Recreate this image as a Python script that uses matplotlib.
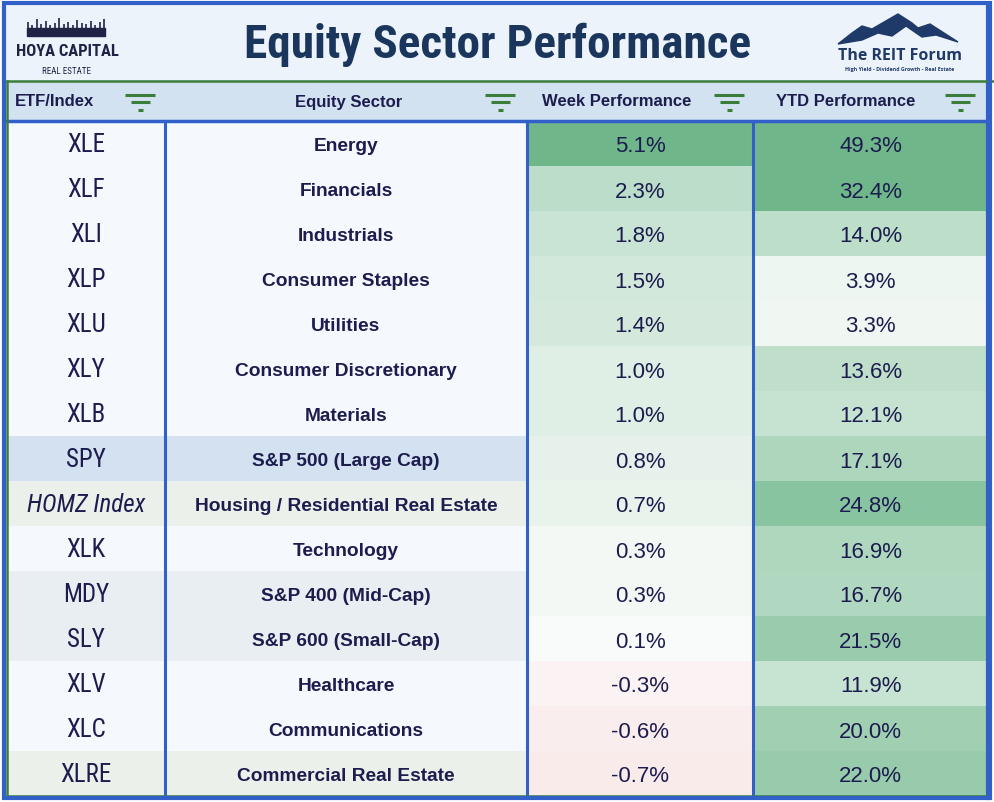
import numpy as np
import matplotlib
matplotlib.use("Agg")
import matplotlib.pyplot as plt
from matplotlib.patches import Rectangle, Polygon
from matplotlib import font_manager
from matplotlib.colors import to_rgb

# Data
tickers = ["XLE", "XLF", "XLI", "XLP", "XLU", "XLY", "XLB", "SPY", "HOMZ Index",
           "XLK", "MDY", "SLY", "XLV", "XLC", "XLRE"]
sectors = ["Energy", "Financials", "Industrials", "Consumer Staples", "Utilities",
           "Consumer Discretionary", "Materials", "S&P 500 (Large Cap)",
           "Housing / Residential Real Estate", "Technology", "S&P 400 (Mid-Cap)",
           "S&P 600 (Small-Cap)", "Healthcare", "Communications", "Commercial Real Estate"]
week_perf = [5.1, 2.3, 1.8, 1.5, 1.4, 1.0, 1.0, 0.8, 0.7, 0.3, 0.3, 0.1, -0.3, -0.6, -0.7]
ytd_perf = [49.3, 32.4, 14.0, 3.9, 3.3, 13.6, 12.1, 17.1, 24.8, 16.9, 16.7, 21.5, 11.9, 20.0, 22.0]
headers = ["ETF/Index", "Equity Sector", "Week Performance", "YTD Performance"]
row_bg = ["#f5f9fd"] * 7 + ["#d3e1f0", "#ebf1ea", "#f5f9fd", "#e8eef1", "#e8eef1",
                            "#f5f9fd", "#f5f9fd", "#ebf1ea"]

W, H = 994, 802
BLUE = "#3060c8"
GREEN_LINE = "#3b7d3b"
NAVY = "#1c1c4e"
TITLE_NAVY = "#1b365d"

# pick a narrow font if one is around
names = {f.name for f in font_manager.fontManager.ttflist}
narrow = "DejaVu Sans"
for cand in ["Roboto Condensed", "Liberation Sans Narrow", "Open Sans Condensed"]:
    if cand in names:
        narrow = cand
        break

col_edges = [7, 165, 527, 753, 988]
top_rows, row_h = 121, 45
n = len(tickers)


def mix(c1, c2, t):
    a, b = np.array(to_rgb(c1)), np.array(to_rgb(c2))
    t = min(max(t, 0), 1)
    return tuple(a + (b - a) * t)


def week_color(v):
    if v >= 0:
        return mix("#f8fbf9", "#6fb78b", (v - 0.1) / 5.0)
    return mix("#fbf8f8", "#f0787a", -v / 7.0)


def ytd_color(v):
    return mix("#f0f7f2", "#6fb78b", (v - 3.3) / 27.0)


fig = plt.figure(figsize=(W / 100, H / 100), dpi=100)
ax = fig.add_axes([0, 0, 1, 1])
ax.set_xlim(0, W)
ax.set_ylim(H, 0)
ax.axis("off")

# title band + header band
ax.add_patch(Rectangle((5, 4), 983, 77, color="#edf3fb", zorder=0))
ax.add_patch(Rectangle((7, 82), 981, 39, color="#d3e2f0", zorder=0))

# body cells
for i in range(n):
    y0 = top_rows + i * row_h
    ax.add_patch(Rectangle((col_edges[0], y0), col_edges[2] - col_edges[0], row_h,
                           color=row_bg[i], zorder=1, lw=0))
    ax.add_patch(Rectangle((col_edges[2], y0), col_edges[3] - col_edges[2], row_h,
                           color=week_color(week_perf[i]), zorder=1, lw=0))
    ax.add_patch(Rectangle((col_edges[3], y0), col_edges[4] - col_edges[3], row_h,
                           color=ytd_color(ytd_perf[i]), zorder=1, lw=0))
    yc = y0 + row_h / 2 + 2.5
    ax.text((col_edges[0] + col_edges[1]) / 2, yc - 1, tickers[i], ha="center", va="center",
            fontsize=18, family=narrow, fontstretch="condensed", color=NAVY,
            style="italic" if "Index" in tickers[i] else "normal", zorder=3)
    ax.text((col_edges[1] + col_edges[2]) / 2, yc + 0.5, sectors[i], ha="center", va="center",
            fontsize=13.8, family="Liberation Sans", weight="bold", color=NAVY, zorder=3)
    ax.text((col_edges[2] + col_edges[3]) / 2, yc + 1, f"{week_perf[i]:.1f}%", ha="center",
            va="center", fontsize=16, family="Liberation Sans", color=NAVY, zorder=3)
    ax.text((col_edges[3] + col_edges[4]) / 2, yc + 1, f"{ytd_perf[i]:.1f}%", ha="center",
            va="center", fontsize=16, family="Liberation Sans", color=NAVY, zorder=3)

# header labels + filter icons
head_x = [15, 349, 617, 846]
head_ha = ["left", "center", "center", "center"]
icon_x = [140, 500, 729, 960]
for hx, ha, txt, ix in zip(head_x, head_ha, headers, icon_x):
    ax.text(hx, 102, txt, ha=ha, va="center", fontsize=12, family="Liberation Sans",
            weight="bold", color=NAVY, zorder=3)
    for w, yy in zip([30, 19, 5], [95, 102, 110]):
        ax.plot([ix - w / 2, ix + w / 2], [yy, yy], color=GREEN_LINE, lw=2.2,
                solid_capstyle="butt", zorder=3)

# grid lines
for x in col_edges[1:4]:
    ax.plot([x, x], [top_rows, 796], color=BLUE, lw=2.2, zorder=4)
ax.plot([7, 988], [top_rows, top_rows], color=BLUE, lw=2.5, zorder=4)
ax.plot([988, 988], [4, 798], color=BLUE, lw=3, zorder=4)
# green inner frame
ax.plot([7, 7, 988], [81, 796, 796], color=GREEN_LINE, lw=1.8, zorder=4)
ax.plot([7, 994], [81, 81], color=GREEN_LINE, lw=1.8, zorder=4)
# outer blue frame
ax.add_patch(Rectangle((4, 3), 986, 795, fill=False, ec=BLUE, lw=3, zorder=5))

# title
ax.text(498, 45, "Equity Sector Performance", ha="center", va="center", fontsize=34,
        family=narrow, fontstretch="condensed", weight="heavy", color=TITLE_NAVY, zorder=3)

# Hoya Capital logo
spires = [6, 3, 9, 4, 7, 3, 5, 10, 4, 6, 3, 8, 5, 4, 7, 3, 6, 9]
band_x = np.linspace(28, 104, len(spires))
ax.add_patch(Rectangle((27, 28), 78, 8, color="#1f2447", zorder=3))
ax.vlines(band_x, [28 - s for s in spires], 30, color="#1f2447", lw=1.2, zorder=3)
ax.text(67, 51, "HOYA CAPITAL", ha="center", va="center", fontsize=12, family=narrow,
        fontstretch="condensed", weight="bold", color="#1f2447", zorder=3)
ax.text(67, 71, "REAL ESTATE", ha="center", va="center", fontsize=6.5, family=narrow,
        fontstretch="condensed", color="#1f2447", zorder=3)

# REIT Forum logo
mountain = [(838, 44), (852, 33), (862, 26), (872, 29), (898, 14), (912, 23), (918, 28),
            (930, 24), (958, 42), (936, 35), (922, 37), (906, 26), (892, 36), (878, 33),
            (862, 40)]
ax.add_patch(Polygon(mountain, closed=True, color="#1f3a68", zorder=3))
ax.text(900, 56, "The REIT Forum", ha="center", va="center", fontsize=11.5,
        family="Open Sans", weight="bold", color="#1f3a68", zorder=3)
ax.text(900, 69, "High Yield - Dividend Growth - Real Estate", ha="center", va="center",
        fontsize=3.8, family="Open Sans", weight="bold", color="#1f3a68", zorder=3)

fig.savefig("out.png", dpi=100, facecolor="white")
